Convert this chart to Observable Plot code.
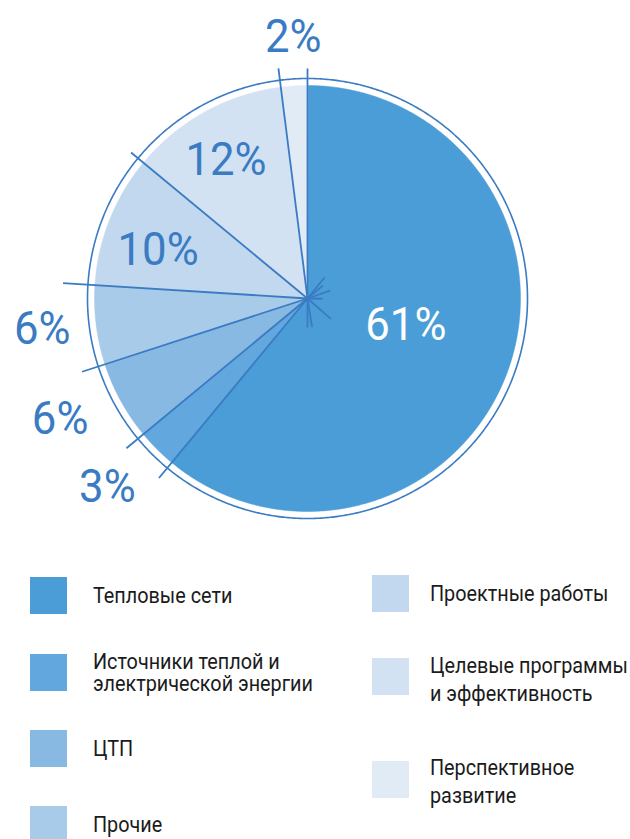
<!DOCTYPE html>
<html><head><meta charset="utf-8">
<script src="https://cdn.jsdelivr.net/npm/d3@7"></script>
<script src="https://cdn.jsdelivr.net/npm/@observablehq/plot@0.6"></script>
<style>
body{margin:0;background:#fff;font-family:Roboto,"Liberation Sans",sans-serif;}
#wrap{position:relative;width:630px;height:839px;overflow:hidden;}
#chart{position:absolute;left:0;top:0;}
.leg{position:absolute;display:flex;align-items:center;height:37px;}
.sw{width:37px;height:37px;flex:none;}
.lt{font-size:22px;color:#1b1b1b;white-space:nowrap;transform:scaleX(0.9);transform-origin:left center;}
</style></head><body><div id="wrap"><div id="chart"></div></div>
<script>
// ---- data ----
const categories = ["Тепловые сети", "Источники теплой и\nэлектрической энергии", "ЦТП", "Прочие",
  "Проектные работы", "Целевые программы\nи эффективность", "Перспективное\nразвитие"];
const values = [61, 3, 6, 6, 10, 12, 2];
const colors = ["#4b9dd7", "#62a7dd", "#88b9e3", "#a9cbea", "#c1d8ef", "#d2e2f3", "#e1ebf6"];
const labels = values.map(v => v + "%");

// ---- layout ----
const W = 630, H = 540, cx = 307, cy = 298, R = 213, ringR = 220;
const labelR = [102, 275, 275, 267, 157, 161, 262];          // px from centre
const labelDeg = [105.3, 226.7, 244.1, 263.5, 287.9, 329.6, 356.9]; // clockwise from 12 o'clock
const leaderR = [230, 233, 235, 237, 245, 229, 232]; // px from centre, per slice start boundary
const stubs = [[39, 27], [71, 24], [91, 15], [131, 31], [171, 29], [180, 29], [50, 20]]; // [deg, px]
const lineColor = "#3a7bc3";
const labelFont = "Roboto,'Liberation Sans',sans-serif";

const arcs = d3.pie().sort(null).value(d => d)(values);
const pt = (a, r) => ({x: Math.sin(a) * r / R, y: Math.cos(a) * r / R});
const rad = d => d * Math.PI / 180;

const sliceMarks = arcs.map((a, i) => {
  const n = Math.max(2, Math.ceil((a.endAngle - a.startAngle) / 0.004) + 1);
  const pts = [pt(0, 0)];
  for (let k = 0; k < n; k++) pts.push(pt(a.startAngle + (a.endAngle - a.startAngle) * k / (n - 1), R));
  return Plot.line(pts, {x: "x", y: "y", fill: colors[i], stroke: colors[i], strokeWidth: 0.5, curve: "linear-closed"});
});

const ring = d3.range(0, 721).map(k => pt(k / 720 * 2 * Math.PI, ringR));
const seg = (a, r) => { const p = pt(a, r); return {x1: 0, y1: 0, x2: p.x, y2: p.y}; };
const leaders = arcs.map((a, i) => seg(a.startAngle, leaderR[i]));
const stubLines = stubs.map(([d, l]) => seg(rad(d), l));
const labelPts = labels.map((t, i) => ({...pt(rad(labelDeg[i]), labelR[i]), t, c: i === 0 ? "#ffffff" : lineColor}));

const chart = Plot.plot({
  width: W, height: H, margin: 0,
  x: {domain: [-cx / R, (W - cx) / R], axis: null},
  y: {domain: [-(H - cy) / R, cy / R], axis: null},
  color: {type: "identity"},
  marks: [
    ...sliceMarks,
    Plot.line(ring, {x: "x", y: "y", stroke: lineColor, strokeWidth: 1.6, curve: "linear-closed"}),
    Plot.link(leaders, {x1: "x1", y1: "y1", x2: "x2", y2: "y2", stroke: lineColor, strokeWidth: 1.8}),
    Plot.link(stubLines, {x1: "x1", y1: "y1", x2: "x2", y2: "y2", stroke: lineColor, strokeWidth: 1.8}),
    Plot.text(labelPts, {x: "x", y: "y", text: "t", fill: "c", fontSize: 47, fontFamily: labelFont, textAnchor: "middle"})
  ]
});
document.getElementById("chart").appendChild(chart);
// condense the percentage labels horizontally about their own centres
chart.querySelectorAll("text").forEach(el => {
  const b = el.getBBox();
  const t = el.transform && el.transform.baseVal && el.transform.baseVal.numberOfItems ? el.transform.baseVal.consolidate().matrix : null;
  const px = b.x + b.width / 2 + (t ? t.e : 0), py = b.y + b.height / 2 + (t ? t.f : 0);
  const g = document.createElementNS("http://www.w3.org/2000/svg", "g");
  g.setAttribute("transform", `translate(${px},${py}) scale(0.93,1) translate(${-px},${-py})`);
  el.parentNode.insertBefore(g, el);
  g.appendChild(el);
});

// ---- legend (HTML) ----  [left, top, text gap, line height, text shift]
const legPos = [[30, 577, 26, 22, 0], [30, 654, 26, 22, 0], [30, 730, 26, 22, 0], [30, 806, 26, 22, 0],
                [372, 575, 21, 28, 0], [372, 658, 21, 28, 3], [372, 761, 21, 28, 2]];
const wrap = document.getElementById("wrap");
categories.forEach((c, i) => {
  const [x, y, gap, lh, sh] = legPos[i];
  const d = document.createElement("div");
  d.className = "leg";
  d.style.left = x + "px"; d.style.top = y + "px";
  const s = document.createElement("div"); s.className = "sw"; s.style.background = colors[i];
  const t = document.createElement("div"); t.className = "lt";
  t.style.marginLeft = gap + "px"; t.style.lineHeight = lh + "px";
  t.style.position = "relative"; t.style.top = sh + "px";
  c.split("\n").forEach((line, j) => { if (j) t.appendChild(document.createElement("br")); t.appendChild(document.createTextNode(line)); });
  d.appendChild(s); d.appendChild(t);
  wrap.appendChild(d);
});
</script></body></html>
